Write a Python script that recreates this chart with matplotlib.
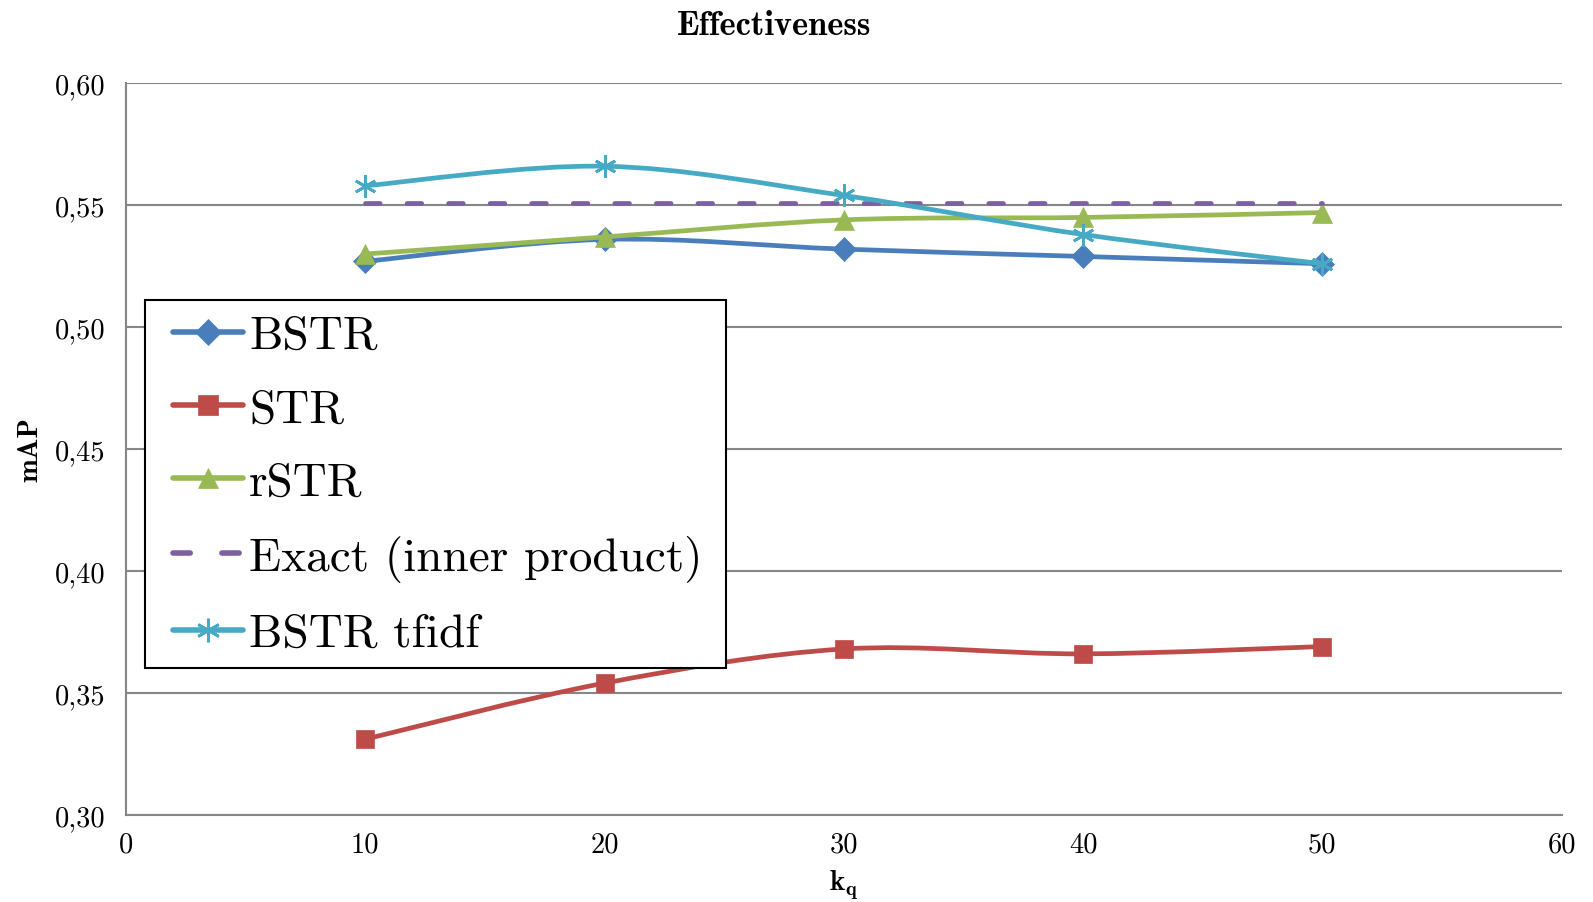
import matplotlib
matplotlib.use("Agg")
import matplotlib.pyplot as plt
from matplotlib.path import Path
from matplotlib.patches import PathPatch, Rectangle
from matplotlib.lines import Line2D
from matplotlib.ticker import FuncFormatter, MultipleLocator

plt.rcParams['font.family'] = ['cmr10', 'DejaVu Serif']
plt.rcParams['mathtext.fontset'] = 'cm'
plt.rcParams['axes.formatter.use_mathtext'] = True

# k_q values and mAP per method
k_q = [10, 20, 30, 40, 50]
bstr = [0.527, 0.536, 0.532, 0.529, 0.526]
strr = [0.331, 0.354, 0.368, 0.366, 0.369]
rstr = [0.530, 0.537, 0.544, 0.545, 0.547]
exact = [0.551, 0.551, 0.551, 0.551, 0.551]
bstr_tfidf = [0.558, 0.566, 0.554, 0.538, 0.526]

labels = ['BSTR', 'STR', 'rSTR', 'Exact (inner product)', 'BSTR tfidf']
colors = ['#4A7EBB', '#BE4B48', '#98B954', '#7D60A0', '#46AAC5']
markers = ['D', 's', '^', None, (6, 2, 0)]
msizes = [12, 13, 14, 0, 16]
smooth = [True, True, True, False, True]
series = [bstr, strr, rstr, exact, bstr_tfidf]
LW = 3.4
DASH = (0, (3.1, 5.7))

fig = plt.figure(figsize=(15.93, 9.03), dpi=100)
ax = fig.add_axes([0.0791, 0.0966, 0.9012, 0.81])


def smooth_path(xs, ys):
    """Cubic Bezier path through the points (Catmull-Rom style tangents)."""
    pts = list(zip(xs, ys))
    n = len(pts)
    verts = [pts[0]]
    codes = [Path.MOVETO]
    for i in range(n - 1):
        p0 = pts[i - 1] if i > 0 else pts[i]
        p1 = pts[i]
        p2 = pts[i + 1]
        p3 = pts[i + 2] if i + 2 < n else pts[i + 1]
        c1 = (p1[0] + (p2[0] - p0[0]) / 6.0, p1[1] + (p2[1] - p0[1]) / 6.0)
        c2 = (p2[0] - (p3[0] - p1[0]) / 6.0, p2[1] - (p3[1] - p1[1]) / 6.0)
        verts += [c1, c2, p2]
        codes += [Path.CURVE4] * 3
    return Path(verts, codes)


handles = []
for i, (ys, lab, col, mk, ms, sm) in enumerate(zip(series, labels, colors, markers, msizes, smooth)):
    z = 3 + i
    mew = 2.0 if mk == (6, 2, 0) else 0.5
    if sm:
        patch = PathPatch(smooth_path(k_q, ys), facecolor='none', edgecolor=col,
                          lw=LW, capstyle='round', joinstyle='round', zorder=z)
        ax.add_patch(patch)
        ax.plot(k_q, ys, linestyle='none', marker=mk, markersize=ms, color=col,
                markeredgecolor=col, markeredgewidth=mew, zorder=z + 0.5)
        h = Line2D([], [], color=col, lw=LW + 0.6, marker=mk, markersize=ms + 1,
                   markeredgecolor=col, markeredgewidth=mew,
                   solid_capstyle='round')
    else:
        ax.plot(k_q, ys, color=col, lw=LW, linestyle=DASH,
                dash_capstyle='round', zorder=z)
        h = Line2D([], [], color=col, lw=LW + 0.6, linestyle=DASH,
                   dash_capstyle='round')
    handles.append(h)

ax.set_xlim(0, 60)
ax.set_ylim(0.30, 0.60)
ax.xaxis.set_major_locator(MultipleLocator(10))
ax.yaxis.set_major_locator(MultipleLocator(0.05))
ax.yaxis.set_major_formatter(FuncFormatter(lambda v, p: f"{v:.2f}".replace('.', ',')))
ax.xaxis.set_major_formatter(FuncFormatter(lambda v, p: f"{v:.0f}"))

ax.grid(axis='y', color='#868686', lw=1.5, zorder=0)
ax.set_axisbelow(True)
for s in ['top', 'right']:
    ax.spines[s].set_visible(False)
for s in ['left', 'bottom']:
    ax.spines[s].set_color('#868686')
    ax.spines[s].set_linewidth(1.5)
ax.tick_params(axis='both', length=0, labelsize=20.5, colors='black')
ax.tick_params(axis='y', pad=15)
ax.tick_params(axis='x', pad=12)

fig.text(0.486, 1 - 35 / 903, 'Effectiveness', fontsize=24.8, fontfamily='cmb10',
         ha='center', va='baseline')
ax.set_ylabel('mAP', fontsize=20.5, fontfamily='cmb10', labelpad=8)
ax.set_xlabel(r'$\mathbf{k_q}$', fontsize=21, labelpad=7)

# legend box
frame = Rectangle((0.0134, 0.200), 0.418 - 0.0134, 0.704 - 0.200,
                  transform=ax.transAxes, facecolor='white', edgecolor='black',
                  lw=1.5, zorder=19, clip_on=False)
ax.add_patch(frame)
leg = ax.legend(handles, labels, loc='upper left', bbox_to_anchor=(0.0325, 0.683),
                fontsize=34, frameon=False,
                handlelength=1.5, handletextpad=0.12, labelspacing=0.66,
                borderpad=0, borderaxespad=0, numpoints=1)
leg.set_zorder(20)

fig.savefig('out.png', dpi=100)
